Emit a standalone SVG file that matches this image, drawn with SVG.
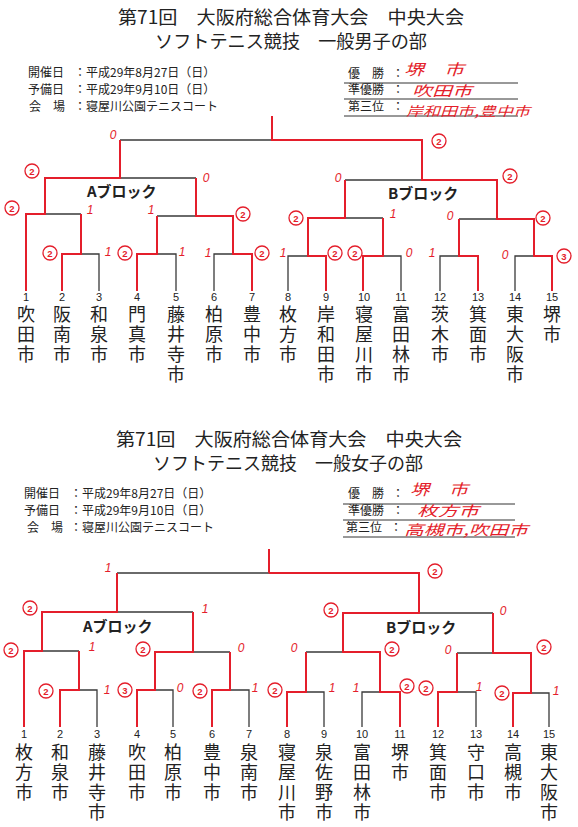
<svg xmlns="http://www.w3.org/2000/svg" width="578" height="827" viewBox="0 0 578 827">
<style>
.t{font-family:"Noto Sans CJK JP","Noto Sans",sans-serif;fill:#222}
.title{font-size:18px;text-anchor:middle}
.info{font-size:12px}
.hw{font-family:"Noto Sans CJK JP",sans-serif;fill:#e41e2b;font-style:italic}
.blk{font-size:15px;font-weight:bold}
.num{font-family:"Liberation Sans",sans-serif;font-size:11px;text-anchor:middle;fill:#222}
.nm{font-size:18px;writing-mode:vertical-rl;letter-spacing:2px}
.ln{fill:none;stroke:#3a3a3a;stroke-width:1.3}
.rd{fill:none;stroke:#e41e2b;stroke-width:2}
.ul{stroke:#333;stroke-width:1}
.sc{font-family:"Liberation Sans",sans-serif;font-size:12px;fill:#e41e2b;text-anchor:middle;font-style:italic}
.cs{font-family:"Liberation Sans",sans-serif;font-size:9.5px;fill:#e41e2b;text-anchor:middle;font-weight:bold}
.cc{fill:none;stroke:#e41e2b;stroke-width:1.3}
</style>
<rect width="578" height="827" fill="#fff"/>

<!-- ===== Men header ===== -->
<g id="men-header">
<text class="t title" x="291" y="24" textLength="346" lengthAdjust="spacingAndGlyphs">第71回　大阪府総合体育大会　中央大会</text>
<text class="t title" x="291" y="48" textLength="272" lengthAdjust="spacingAndGlyphs">ソフトテニス競技　一般男子の部</text>
<text class="t info" x="28" y="77">開催日</text><text class="t info" x="74" y="77">：</text><text class="t info" x="86" y="77">平成29年8月27日（日）</text>
<text class="t info" x="28" y="94">予備日</text><text class="t info" x="74" y="94">：</text><text class="t info" x="86" y="94">平成29年9月10日（日）</text>
<text class="t info" x="29" y="111">会　場</text><text class="t info" x="74" y="111">：</text><text class="t info" x="86" y="111">寝屋川公園テニスコート</text>
<text class="t info" x="348" y="78">優　勝</text><text class="t info" x="392" y="78">：</text>
<text class="t info" x="348" y="94">準優勝</text><text class="t info" x="392" y="94">：</text>
<text class="t info" x="348" y="111">第三位</text><text class="t info" x="392" y="111">：</text>
<line class="ul" x1="344" y1="83" x2="518" y2="83"/>
<line class="ul" x1="344" y1="99" x2="518" y2="99"/>
<line class="ul" x1="344" y1="116" x2="518" y2="116"/>
<text class="hw" x="404" y="74.5" font-size="15" textLength="60" lengthAdjust="spacingAndGlyphs">堺　市</text>
<text class="hw" x="412" y="95.5" font-size="14" textLength="60" lengthAdjust="spacingAndGlyphs">吹田市</text>
<text class="hw" x="406" y="115.5" font-size="13" textLength="124" lengthAdjust="spacingAndGlyphs">岸和田市,豊中市</text>
</g>

<!-- ===== Women header ===== -->
<g id="women-header">
<text class="t title" x="289" y="446" textLength="346" lengthAdjust="spacingAndGlyphs">第71回　大阪府総合体育大会　中央大会</text>
<text class="t title" x="288" y="470" textLength="270" lengthAdjust="spacingAndGlyphs">ソフトテニス競技　一般女子の部</text>
<text class="t info" x="24" y="498">開催日</text><text class="t info" x="70" y="498">：</text><text class="t info" x="82" y="498">平成29年8月27日（日）</text>
<text class="t info" x="24" y="515">予備日</text><text class="t info" x="70" y="515">：</text><text class="t info" x="82" y="515">平成29年9月10日（日）</text>
<text class="t info" x="27" y="532">会　場</text><text class="t info" x="70" y="532">：</text><text class="t info" x="82" y="532">寝屋川公園テニスコート</text>
<text class="t info" x="348" y="498">優　勝</text><text class="t info" x="392" y="498">：</text>
<text class="t info" x="348" y="515">準優勝</text><text class="t info" x="392" y="515">：</text>
<text class="t info" x="346" y="532">第三位</text><text class="t info" x="390" y="532">：</text>
<line class="ul" x1="343" y1="504" x2="515" y2="504"/>
<line class="ul" x1="343" y1="520" x2="515" y2="520"/>
<line class="ul" x1="343" y1="537" x2="515" y2="537"/>
<text class="hw" x="410" y="495" font-size="15" textLength="58" lengthAdjust="spacingAndGlyphs">堺　市</text>
<text class="hw" x="417" y="516" font-size="14" textLength="62" lengthAdjust="spacingAndGlyphs">枚方市</text>
<text class="hw" x="404" y="535" font-size="14" textLength="124" lengthAdjust="spacingAndGlyphs">高槻市,吹田市</text>
</g>

<!-- ===== Connectors ===== -->
<g id="connectors">
<path class="ln" d="M272,116V140M120,140H422M120,140V178M45,178H196M45,178V214M26,214H81M26,214V291M81,214V254M62,291V254H99V291M196,178V216M157,216H233M157,216V254M137,291V254H176V291M233,216V254M214,291V254H252V291M422,140V180M345,180H497M345,180V218M308,218H383M308,218V256M288,291V256H326V291M383,218V256M363,291V256H401V291M497,180V219M459,219H534M459,219V256M440,291V256H478V291M534,219V256M515,291V256H552V291"/>
<path class="rd" d="M26,291V214H45V178H120V140"/>
<path class="rd" d="M272,116V140H422V180H497V219H534V256H552V291"/>
<path class="rd" d="M62,291V254H81V214"/>
<path class="rd" d="M137,291V254H157V216"/>
<path class="rd" d="M252,291V254H233V216H196V178"/>
<path class="rd" d="M326,291V256H308V218H345V180"/>
<path class="rd" d="M363,291V256H383V218"/>
<path class="rd" d="M478,291V256H459V219"/>
<path class="ln" d="M269,549V573M117,573H419M117,573V612M42,612H193M42,612V651M24,651H79M24,651V727M79,651V690M60,727V690H97V727M193,612V652M155,652H230M155,652V690M137,727V690H173V727M230,652V690M212,727V690H249V727M419,573V613M343,613H493M343,613V652M306,652H380M306,652V692M287,727V692H324V727M380,652V692M362,727V692H400V727M493,613V653M457,653H531M457,653V692M438,727V692H476V727M531,653V693M513,727V693H549V727"/>
<path class="rd" d="M24,727V651H42V612H117V573"/>
<path class="rd" d="M400,727V692H380V652H343V613H419V573H269M269,549V573"/>
<path class="rd" d="M60,727V690H79V651"/>
<path class="rd" d="M137,727V690H155V652H193V612"/>
<path class="rd" d="M212,727V690H230V652"/>
<path class="rd" d="M287,727V692H306V652"/>
<path class="rd" d="M438,727V692H457V653"/>
<path class="rd" d="M513,727V693H531V653H493V613"/>
</g>

<!-- ===== Block labels ===== -->
<g id="blocks">
<text class="t blk" x="87" y="197">Aブロック</text>
<text class="t blk" x="388" y="199">Bブロック</text>
<text class="t blk" x="83" y="632">Aブロック</text>
<text class="t blk" x="386" y="633">Bブロック</text>
</g>

<!-- ===== Scores ===== -->
<g id="scores-men">
<text class="sc" x="113" y="139">0</text>
<circle class="cc" cx="439" cy="141" r="7"/><text class="cs" x="439" y="144.5">2</text>
<circle class="cc" cx="32" cy="171" r="7"/><text class="cs" x="32" y="174.5">2</text>
<text class="sc" x="206" y="182">0</text>
<text class="sc" x="338" y="182">0</text>
<circle class="cc" cx="510" cy="176" r="7"/><text class="cs" x="510" y="179.5">2</text>
<circle class="cc" cx="12" cy="208" r="7"/><text class="cs" x="12" y="211.5">2</text>
<text class="sc" x="90" y="214">1</text>
<text class="sc" x="151" y="214">1</text>
<circle class="cc" cx="243" cy="214" r="7"/><text class="cs" x="243" y="217.5">2</text>
<circle class="cc" cx="296" cy="218" r="7"/><text class="cs" x="296" y="221.5">2</text>
<text class="sc" x="393" y="218">1</text>
<text class="sc" x="450" y="220">0</text>
<circle class="cc" cx="543" cy="218" r="7"/><text class="cs" x="543" y="221.5">2</text>
<circle class="cc" cx="50" cy="253" r="7"/><text class="cs" x="50" y="256.5">2</text>
<text class="sc" x="108" y="256">1</text>
<circle class="cc" cx="125" cy="253" r="7"/><text class="cs" x="125" y="256.5">2</text>
<text class="sc" x="182" y="256">1</text>
<text class="sc" x="208" y="257">1</text>
<circle class="cc" cx="262" cy="253" r="7"/><text class="cs" x="262" y="256.5">2</text>
<text class="sc" x="283" y="257">1</text>
<circle class="cc" cx="335" cy="253" r="7"/><text class="cs" x="335" y="256.5">2</text>
<circle class="cc" cx="355" cy="253" r="7"/><text class="cs" x="355" y="256.5">2</text>
<text class="sc" x="409" y="257">0</text>
<text class="sc" x="432" y="257">1</text>
<text class="sc" x="505" y="259">0</text>
<circle class="cc" cx="564" cy="256" r="7"/><text class="cs" x="564" y="259.5">3</text>
</g>
<g id="scores-women">
<text class="sc" x="108" y="572">1</text>
<circle class="cc" cx="435" cy="571" r="7"/><text class="cs" x="435" y="574.5">2</text>
<circle class="cc" cx="30" cy="608" r="7"/><text class="cs" x="30" y="611.5">2</text>
<text class="sc" x="205" y="613">1</text>
<circle class="cc" cx="331" cy="610" r="7"/><text class="cs" x="331" y="613.5">2</text>
<text class="sc" x="503" y="615">0</text>
<circle class="cc" cx="11" cy="650" r="7"/><text class="cs" x="11" y="653.5">2</text>
<text class="sc" x="92" y="651">1</text>
<circle class="cc" cx="143" cy="649" r="7"/><text class="cs" x="143" y="652.5">2</text>
<text class="sc" x="241" y="652">0</text>
<text class="sc" x="294" y="652">0</text>
<circle class="cc" cx="392" cy="649" r="7"/><text class="cs" x="392" y="652.5">2</text>
<text class="sc" x="448" y="654">0</text>
<circle class="cc" cx="544" cy="647" r="7"/><text class="cs" x="544" y="650.5">2</text>
<circle class="cc" cx="46" cy="691" r="7"/><text class="cs" x="46" y="694.5">2</text>
<text class="sc" x="107" y="694">1</text>
<circle class="cc" cx="125" cy="690" r="7"/><text class="cs" x="125" y="693.5">3</text>
<text class="sc" x="180" y="692">0</text>
<circle class="cc" cx="200" cy="691" r="7"/><text class="cs" x="200" y="694.5">2</text>
<text class="sc" x="255" y="692">1</text>
<circle class="cc" cx="275" cy="690" r="7"/><text class="cs" x="275" y="693.5">2</text>
<text class="sc" x="332" y="692">1</text>
<text class="sc" x="356" y="692">1</text>
<circle class="cc" cx="407" cy="686" r="7"/><text class="cs" x="407" y="689.5">2</text>
<circle class="cc" cx="426" cy="688" r="7"/><text class="cs" x="426" y="691.5">2</text>
<text class="sc" x="479" y="691">1</text>
<circle class="cc" cx="502" cy="693" r="7"/><text class="cs" x="502" y="696.5">2</text>
<text class="sc" x="556" y="695">1</text>
</g>

<!-- ===== Men entrants ===== -->
<g id="m01"><text class="num" x="26" y="301">1</text><text class="t nm" x="26" y="305">吹田市</text></g>
<g id="m02"><text class="num" x="62" y="301">2</text><text class="t nm" x="62" y="305">阪南市</text></g>
<g id="m03"><text class="num" x="99" y="301">3</text><text class="t nm" x="99" y="305">和泉市</text></g>
<g id="m04"><text class="num" x="137" y="301">4</text><text class="t nm" x="137" y="305">門真市</text></g>
<g id="m05"><text class="num" x="176" y="301">5</text><text class="t nm" x="176" y="305">藤井寺市</text></g>
<g id="m06"><text class="num" x="214" y="301">6</text><text class="t nm" x="214" y="305">柏原市</text></g>
<g id="m07"><text class="num" x="252" y="301">7</text><text class="t nm" x="252" y="305">豊中市</text></g>
<g id="m08"><text class="num" x="288" y="301">8</text><text class="t nm" x="288" y="305">枚方市</text></g>
<g id="m09"><text class="num" x="326" y="301">9</text><text class="t nm" x="326" y="305">岸和田市</text></g>
<g id="m10"><text class="num" x="364" y="301">10</text><text class="t nm" x="364" y="305">寝屋川市</text></g>
<g id="m11"><text class="num" x="401" y="301">11</text><text class="t nm" x="401" y="305">富田林市</text></g>
<g id="m12"><text class="num" x="440" y="301">12</text><text class="t nm" x="440" y="305">茨木市</text></g>
<g id="m13"><text class="num" x="478" y="301">13</text><text class="t nm" x="478" y="305">箕面市</text></g>
<g id="m14"><text class="num" x="515" y="301">14</text><text class="t nm" x="515" y="305">東大阪市</text></g>
<g id="m15"><text class="num" x="552" y="301">15</text><text class="t nm" x="552" y="305">堺市</text></g>

<!-- ===== Women entrants ===== -->
<g id="w01"><text class="num" x="24" y="738">1</text><text class="t nm" x="24" y="743">枚方市</text></g>
<g id="w02"><text class="num" x="60" y="738">2</text><text class="t nm" x="60" y="743">和泉市</text></g>
<g id="w03"><text class="num" x="97" y="738">3</text><text class="t nm" x="97" y="743">藤井寺市</text></g>
<g id="w04"><text class="num" x="137" y="738">4</text><text class="t nm" x="137" y="743">吹田市</text></g>
<g id="w05"><text class="num" x="173" y="738">5</text><text class="t nm" x="173" y="743">柏原市</text></g>
<g id="w06"><text class="num" x="212" y="738">6</text><text class="t nm" x="212" y="743">豊中市</text></g>
<g id="w07"><text class="num" x="249" y="738">7</text><text class="t nm" x="249" y="743">泉南市</text></g>
<g id="w08"><text class="num" x="287" y="738">8</text><text class="t nm" x="287" y="743">寝屋川市</text></g>
<g id="w09"><text class="num" x="324" y="738">9</text><text class="t nm" x="324" y="743">泉佐野市</text></g>
<g id="w10"><text class="num" x="362" y="738">10</text><text class="t nm" x="362" y="743">富田林市</text></g>
<g id="w11"><text class="num" x="400" y="738">11</text><text class="t nm" x="400" y="743">堺市</text></g>
<g id="w12"><text class="num" x="438" y="738">12</text><text class="t nm" x="438" y="743">箕面市</text></g>
<g id="w13"><text class="num" x="476" y="738">13</text><text class="t nm" x="476" y="743">守口市</text></g>
<g id="w14"><text class="num" x="513" y="738">14</text><text class="t nm" x="513" y="743">高槻市</text></g>
<g id="w15"><text class="num" x="549" y="738">15</text><text class="t nm" x="549" y="743">東大阪市</text></g>
</svg>
